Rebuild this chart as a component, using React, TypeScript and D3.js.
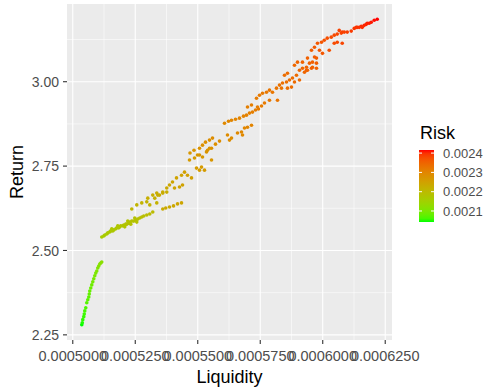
import React, { useEffect, useRef } from "react";
import * as d3 from "d3";

// [liquidity, return, risk], grouped by cluster
const greenBand = [
  [0.0005036, 2.28, 0.002043], [0.0005038, 2.286, 0.002046], [0.000504, 2.295, 0.00205], [0.0005044, 2.304, 0.002053],
  [0.0005046, 2.312, 0.002056], [0.0005048, 2.321, 0.00206], [0.0005052, 2.33, 0.002063], [0.0005056, 2.345, 0.002068],
  [0.000506, 2.354, 0.002071], [0.0005064, 2.362, 0.002074], [0.0005066, 2.371, 0.002078], [0.0005068, 2.38, 0.002081],
  [0.0005072, 2.389, 0.002085], [0.0005076, 2.398, 0.002088], [0.000508, 2.407, 0.002092], [0.0005084, 2.416, 0.002095],
  [0.0005088, 2.425, 0.002099], [0.0005092, 2.433, 0.002102], [0.0005096, 2.439, 0.002105], [0.00051, 2.448, 0.002108],
  [0.0005104, 2.454, 0.002111], [0.0005108, 2.46, 0.002114], [0.0005112, 2.463, 0.002116], [0.0005116, 2.466, 0.002118],
];

const lowerBand = [
  [0.0005116, 2.54, 0.00216], [0.0005124, 2.543, 0.002162], [0.0005128, 2.546, 0.002163], [0.0005136, 2.549, 0.002165],
  [0.000514, 2.552, 0.002166], [0.0005148, 2.555, 0.002168], [0.0005152, 2.558, 0.002169], [0.000516, 2.558, 0.00217],
  [0.0005164, 2.561, 0.002171], [0.0005172, 2.564, 0.002172], [0.0005176, 2.567, 0.002173], [0.0005184, 2.567, 0.002174],
  [0.0005188, 2.57, 0.002175], [0.0005192, 2.573, 0.002176], [0.00052, 2.573, 0.002177], [0.0005204, 2.575, 0.002178],
  [0.0005212, 2.578, 0.002179], [0.0005216, 2.578, 0.00218], [0.0005224, 2.581, 0.002181], [0.0005228, 2.584, 0.002182],
  [0.0005236, 2.587, 0.002183], [0.0005244, 2.587, 0.002184], [0.0005252, 2.59, 0.002186], [0.000526, 2.593, 0.002187],
  [0.0005268, 2.596, 0.002189], [0.0005276, 2.599, 0.00219], [0.0005284, 2.602, 0.002192], [0.0005296, 2.605, 0.002194],
  [0.0005308, 2.608, 0.002196], [0.000532, 2.614, 0.002198],
  [0.0005156, 2.564, 0.002171], [0.000518, 2.573, 0.002175], [0.0005208, 2.57, 0.002178], [0.0005232, 2.578, 0.002182],
  [0.0005256, 2.584, 0.002186], [0.000522, 2.587, 0.002181], [0.0005248, 2.596, 0.002185],
];

const upperSparse = [
  [0.0005236, 2.623, 0.002208], [0.0005256, 2.635, 0.002212], [0.0005276, 2.641, 0.002215], [0.0005296, 2.644, 0.002217],
  [0.0005308, 2.635, 0.002216], [0.0005328, 2.655, 0.00222], [0.000534, 2.664, 0.002223], [0.000536, 2.67, 0.002225],
  [0.0005376, 2.673, 0.002227], [0.0005336, 2.641, 0.002218],
  [0.000536, 2.623, 0.002232], [0.0005372, 2.626, 0.002234], [0.0005387, 2.629, 0.002236], [0.0005403, 2.632, 0.002238],
  [0.0005419, 2.638, 0.00224], [0.0005435, 2.641, 0.002242],
];

const midBand = [
  [0.00053, 2.655, 0.002224], [0.000532, 2.664, 0.002227], [0.0005336, 2.67, 0.002229], [0.0005347, 2.664, 0.00223],
  [0.000536, 2.673, 0.002232], [0.0005376, 2.685, 0.002236], [0.0005387, 2.694, 0.002239], [0.0005399, 2.703, 0.002242],
  [0.0005415, 2.715, 0.002246], [0.0005435, 2.723, 0.002249], [0.0005447, 2.732, 0.002252], [0.0005459, 2.723, 0.002253],
  [0.0005475, 2.715, 0.002254], [0.0005467, 2.768, 0.002262], [0.0005487, 2.774, 0.002264], [0.0005499, 2.783, 0.002267],
  [0.0005519, 2.777, 0.002268], [0.0005535, 2.792, 0.002272], [0.0005547, 2.803, 0.002275], [0.0005555, 2.768, 0.00227],
  [0.0005515, 2.747, 0.002262], [0.0005507, 2.738, 0.002259], [0.0005527, 2.738, 0.002261], [0.0005495, 2.744, 0.002259],
  [0.0005407, 2.685, 0.002244], [0.0005427, 2.688, 0.002247], [0.0005439, 2.694, 0.002249],
  [0.0005469, 2.789, 0.00227], [0.0005485, 2.797, 0.002273], [0.0005507, 2.803, 0.002276], [0.0005519, 2.812, 0.002279],
  [0.0005531, 2.821, 0.002282], [0.0005547, 2.827, 0.002284], [0.0005559, 2.833, 0.002286], [0.0005571, 2.815, 0.002284],
  [0.0005587, 2.824, 0.002287], [0.0005539, 2.797, 0.002277], [0.0005555, 2.803, 0.002279], [0.0005507, 2.783, 0.002271],
];

const highBand = [
  [0.0005607, 2.877, 0.002294], [0.0005623, 2.883, 0.002297], [0.0005635, 2.886, 0.002299], [0.0005651, 2.889, 0.002301],
  [0.0005667, 2.892, 0.002303], [0.0005683, 2.898, 0.002305], [0.0005695, 2.901, 0.002307], [0.0005707, 2.907, 0.002309],
  [0.0005719, 2.91, 0.002311], [0.0005731, 2.916, 0.002313], [0.0005743, 2.919, 0.002315], [0.0005755, 2.928, 0.002317],
  [0.0005619, 2.842, 0.002289], [0.0005635, 2.833, 0.002289], [0.0005627, 2.827, 0.002287], [0.0005659, 2.848, 0.002293],
  [0.0005675, 2.851, 0.002295], [0.0005687, 2.863, 0.002298], [0.0005699, 2.865, 0.0023], [0.0005715, 2.871, 0.002302],
  [0.0005679, 2.842, 0.002294],
  [0.0005699, 2.925, 0.00231], [0.0005715, 2.931, 0.002312], [0.0005735, 2.951, 0.002316], [0.0005747, 2.96, 0.002318],
  [0.0005759, 2.966, 0.00232], [0.0005775, 2.969, 0.002322], [0.0005787, 2.975, 0.002324], [0.0005799, 2.969, 0.002324],
  [0.0005815, 2.981, 0.002328], [0.0005827, 2.99, 0.002331], [0.0005839, 2.996, 0.002333], [0.0005855, 2.999, 0.002335],
  [0.0005867, 3.005, 0.002337], [0.0005879, 3.011, 0.002339], [0.0005895, 3.019, 0.002342], [0.0005907, 3.034, 0.002346],
  [0.0005919, 3.04, 0.002348], [0.0005935, 3.043, 0.00235], [0.0005947, 3.055, 0.002353], [0.0005959, 3.058, 0.002355],
  [0.0005975, 3.07, 0.002358], [0.0005847, 3.019, 0.002338], [0.0005859, 3.025, 0.00234], [0.0005887, 3.049, 0.002346],
  [0.0005899, 3.058, 0.002349], [0.0005939, 3.034, 0.00235], [0.0005955, 3.04, 0.002353], [0.0005975, 3.04, 0.002355],
  [0.0005927, 3.028, 0.002347], [0.0005907, 3.005, 0.002343], [0.0005819, 2.945, 0.002326], [0.0005787, 2.945, 0.002321],
  [0.0005767, 2.937, 0.002318], [0.0005739, 2.925, 0.002314], [0.0005835, 2.981, 0.00233], [0.0005859, 2.981, 0.002334],
  [0.0005875, 2.984, 0.002337], [0.0005887, 2.999, 0.00234],
];

const topBand = [
  [0.0005919, 3.058, 0.00235], [0.0005939, 3.07, 0.002354], [0.0005955, 3.093, 0.002359], [0.0005967, 3.102, 0.002362],
  [0.0005979, 3.114, 0.002365], [0.0005995, 3.117, 0.002368], [0.0006006, 3.123, 0.002371], [0.0006018, 3.129, 0.002374],
  [0.0006034, 3.132, 0.002377], [0.0006046, 3.138, 0.00238], [0.0006058, 3.141, 0.002382], [0.0006074, 3.144, 0.002385],
  [0.0006086, 3.147, 0.002388], [0.0006098, 3.147, 0.00239], [0.0006114, 3.15, 0.002393], [0.0006126, 3.158, 0.002396],
  [0.0006138, 3.161, 0.002399], [0.0006154, 3.164, 0.002402], [0.0006166, 3.167, 0.002405], [0.0006178, 3.173, 0.002408],
  [0.0006194, 3.176, 0.002411], [0.0006206, 3.182, 0.002414], [0.0006218, 3.185, 0.002416], [0.0006134, 3.161, 0.002398],
  [0.0006146, 3.161, 0.0024], [0.0006158, 3.161, 0.002402], [0.0006174, 3.17, 0.002406], [0.0006186, 3.173, 0.002409],
  [0.0006066, 3.152, 0.002386], [0.0006078, 3.147, 0.002387], [0.0005987, 3.093, 0.002366], [0.0005999, 3.084, 0.002366],
  [0.0006026, 3.093, 0.002372], [0.0006046, 3.114, 0.002378], [0.0006058, 3.117, 0.002381], [0.0006078, 3.114, 0.002384],
  [0.0005967, 3.073, 0.00236], [0.0005975, 3.055, 0.002358], [0.0005935, 3.034, 0.002351], [0.0005959, 3.043, 0.002355],
];

const xTicks = [0.0005, 0.000525, 0.00055, 0.000575, 0.0006, 0.000625];
const xTickLabels = ["0.0005000", "0.0005250", "0.0005500", "0.0005750", "0.0006000", "0.0006250"];
const yTicks = [2.25, 2.5, 2.75, 3.0];
const yTickLabels = ["2.25", "2.50", "2.75", "3.00"];
const riskTicks = [0.0021, 0.0022, 0.0023, 0.0024];
const riskTickLabels = ["0.0021", "0.0022", "0.0023", "0.0024"];

const points = [...greenBand, ...lowerBand, ...upperSparse, ...midBand, ...highBand, ...topBand];

const expand = (ext: number[]) => {
  const pad = (ext[1] - ext[0]) * 0.05;
  return [ext[0] - pad, ext[1] + pad];
};

const App = () => {
  const svgRef = useRef<SVGSVGElement>(null);

  useEffect(() => {
    document.body.style.margin = "0";
    const width = 484, height = 390;
    const panel = { left: 67, right: 392, top: 4, bottom: 340 };
    const font = "'Liberation Sans', Arial, sans-serif";

    const svg = d3.select(svgRef.current);
    svg.selectAll("*").remove();
    svg.attr("width", width).attr("height", height).style("display", "block").style("font-family", font);
    svg.append("rect").attr("width", width).attr("height", height).attr("fill", "white");

    const x = d3.scaleLinear()
      .domain(expand(d3.extent(points, d => d[0]) as number[]))
      .range([panel.left, panel.right]);
    const y = d3.scaleLinear()
      .domain(expand(d3.extent(points, d => d[1]) as number[]))
      .range([panel.bottom, panel.top]);
    const riskExtent = d3.extent(points, d => d[2]) as number[];
    const color = d3.scaleLinear<string>()
      .domain(riskExtent)
      .range(["#00FF00", "#FF0000"])
      .interpolate(d3.interpolateLab);

    // Panel background + grid
    svg.append("rect")
      .attr("x", panel.left).attr("y", panel.top)
      .attr("width", panel.right - panel.left).attr("height", panel.bottom - panel.top)
      .attr("fill", "#EBEBEB");

    const xMinor = xTicks.map(t => t + 0.0000125).filter(t => x(t) < panel.right);
    const yMinor = yTicks.map(t => t + 0.125).filter(t => y(t) > panel.top);
    const grid = svg.append("g").attr("stroke", "white");
    grid.selectAll(".xm").data(xMinor).enter().append("line")
      .attr("x1", d => x(d)).attr("x2", d => x(d)).attr("y1", panel.top).attr("y2", panel.bottom)
      .attr("stroke-width", 0.55);
    grid.selectAll(".ym").data(yMinor).enter().append("line")
      .attr("y1", d => y(d)).attr("y2", d => y(d)).attr("x1", panel.left).attr("x2", panel.right)
      .attr("stroke-width", 0.55);
    grid.selectAll(".xM").data(xTicks).enter().append("line")
      .attr("x1", d => x(d)).attr("x2", d => x(d)).attr("y1", panel.top).attr("y2", panel.bottom)
      .attr("stroke-width", 1.1);
    grid.selectAll(".yM").data(yTicks).enter().append("line")
      .attr("y1", d => y(d)).attr("y2", d => y(d)).attr("x1", panel.left).attr("x2", panel.right)
      .attr("stroke-width", 1.1);

    // Points
    svg.append("g").selectAll("circle").data(points).enter().append("circle")
      .attr("cx", d => x(d[0])).attr("cy", d => y(d[1])).attr("r", 1.8)
      .attr("fill", d => color(d[2]));

    // Axes
    const axes = svg.append("g");
    axes.selectAll(".xt").data(xTicks).enter().append("line")
      .attr("x1", d => x(d)).attr("x2", d => x(d)).attr("y1", panel.bottom).attr("y2", panel.bottom + 4)
      .attr("stroke", "#333333").attr("stroke-width", 1.1);
    axes.selectAll(".xl").data(xTicks).enter().append("text")
      .attr("x", d => x(d)).attr("y", panel.bottom + 21)
      .attr("text-anchor", "middle").attr("font-size", 14.5).attr("fill", "#4D4D4D")
      .text((d, i) => xTickLabels[i]);
    axes.selectAll(".yt").data(yTicks).enter().append("line")
      .attr("y1", d => y(d)).attr("y2", d => y(d)).attr("x1", panel.left - 4).attr("x2", panel.left)
      .attr("stroke", "#333333").attr("stroke-width", 1.1);
    axes.selectAll(".yl").data(yTicks).enter().append("text")
      .attr("x", panel.left - 8).attr("y", d => y(d)).attr("dy", "0.36em")
      .attr("text-anchor", "end").attr("font-size", 14).attr("fill", "#4D4D4D")
      .text((d, i) => yTickLabels[i]);

    svg.append("text")
      .attr("x", (panel.left + panel.right) / 2).attr("y", 383)
      .attr("text-anchor", "middle").attr("font-size", 18).attr("fill", "black")
      .text("Liquidity");
    svg.append("text")
      .attr("transform", `translate(23, ${(panel.top + panel.bottom) / 2}) rotate(-90)`)
      .attr("text-anchor", "middle").attr("font-size", 18).attr("fill", "black")
      .text("Return");

    // Legend colourbar
    const bar = { x: 419, w: 15, top: 150, bottom: 222 };
    const grad = svg.append("defs").append("linearGradient")
      .attr("id", "riskGrad").attr("x1", 0).attr("y1", 1).attr("x2", 0).attr("y2", 0);
    d3.range(0, 1.0001, 0.05).forEach(t => {
      grad.append("stop").attr("offset", t)
        .attr("stop-color", color(riskExtent[0] + t * (riskExtent[1] - riskExtent[0])));
    });
    const ry = d3.scaleLinear().domain(riskExtent).range([bar.bottom, bar.top]);
    svg.append("text").attr("x", 420).attr("y", 139).attr("font-size", 18).attr("fill", "black").text("Risk");
    svg.append("rect")
      .attr("x", bar.x).attr("y", bar.top).attr("width", bar.w).attr("height", bar.bottom - bar.top)
      .attr("fill", "url(#riskGrad)");
    const lg = svg.append("g");
    riskTicks.forEach((t, i) => {
      lg.append("line").attr("x1", bar.x).attr("x2", bar.x + 3).attr("y1", ry(t)).attr("y2", ry(t))
        .attr("stroke", "white").attr("stroke-width", 1);
      lg.append("line").attr("x1", bar.x + bar.w - 3).attr("x2", bar.x + bar.w).attr("y1", ry(t)).attr("y2", ry(t))
        .attr("stroke", "white").attr("stroke-width", 1);
      lg.append("text").attr("x", 443).attr("y", ry(t)).attr("dy", "0.36em")
        .attr("font-size", 13).attr("fill", "#4D4D4D").text(riskTickLabels[i]);
    });
  }, []);

  return <svg ref={svgRef}></svg>;
};

export default App;
